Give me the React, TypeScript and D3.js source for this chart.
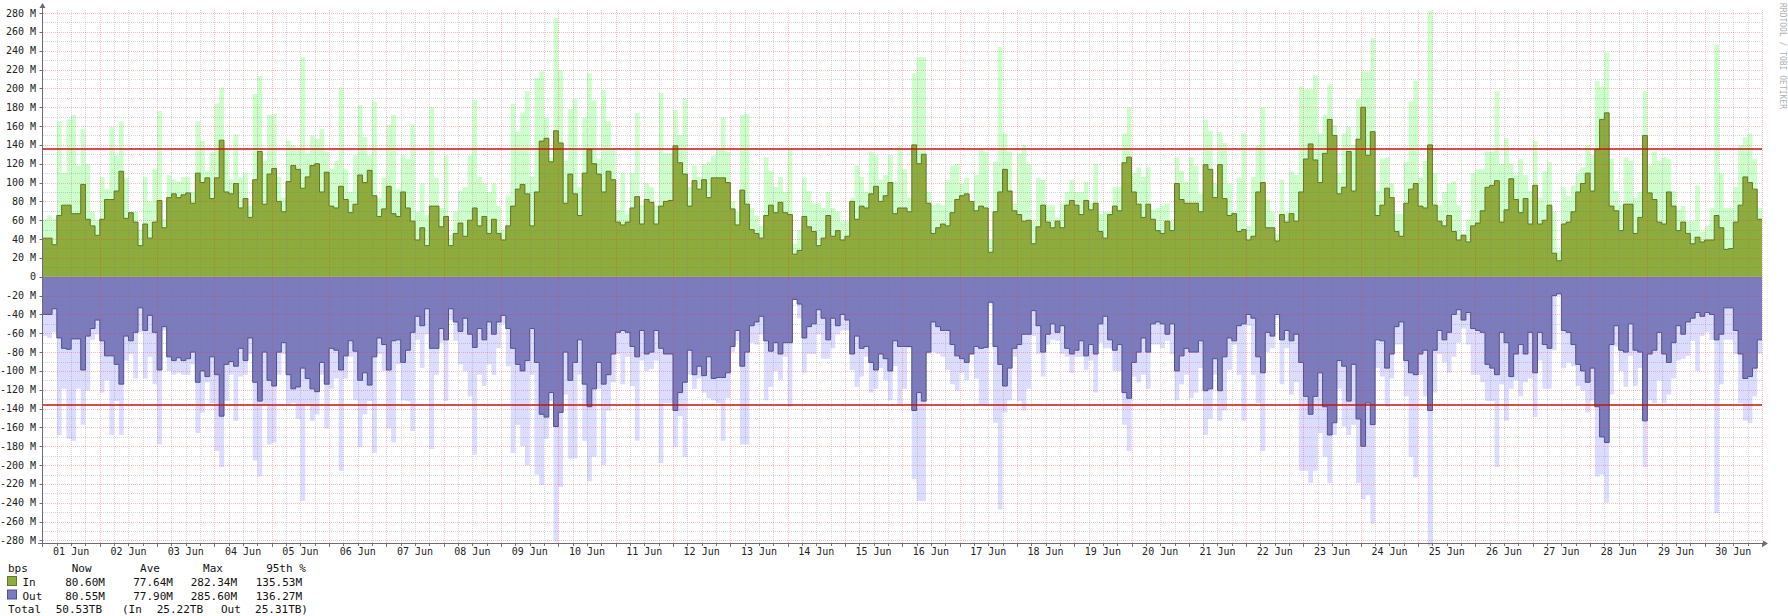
import { useEffect, useRef } from "react";
import * as d3 from "d3";

// 2-hour samples, values in Mbit/s (01 Jun .. 30 Jun)
const inAvg = [
  41, 41, 34, 65, 76, 76, 67, 67, 98, 61, 54, 44, 61, 82, 82, 91, 112, 62, 68, 58,
  33, 56, 41, 58, 81, 52, 84, 88, 84, 87, 89, 78, 110, 100, 105, 83, 105, 145, 90, 88,
  99, 73, 83, 63, 103, 133, 77, 109, 115, 80, 69, 101, 118, 114, 94, 106, 118, 120, 90, 111,
  75, 73, 96, 82, 68, 77, 108, 100, 113, 86, 64, 72, 96, 67, 64, 90, 73, 59, 39, 52,
  33, 75, 75, 53, 64, 33, 46, 57, 43, 60, 73, 54, 64, 46, 61, 46, 39, 54, 75, 93,
  98, 88, 54, 90, 144, 147, 122, 155, 142, 78, 109, 88, 65, 110, 135, 120, 109, 90, 112, 103,
  58, 55, 58, 73, 85, 56, 82, 79, 56, 75, 80, 81, 139, 121, 109, 75, 102, 93, 103, 84,
  105, 105, 105, 100, 72, 55, 92, 77, 50, 46, 41, 65, 76, 68, 79, 68, 66, 24, 28, 64,
  53, 48, 33, 41, 65, 43, 49, 39, 43, 80, 61, 75, 73, 88, 96, 80, 86, 100, 67, 73,
  73, 69, 140, 120, 130, 78, 46, 52, 56, 54, 68, 82, 86, 88, 80, 70, 75, 73, 26, 69,
  90, 114, 91, 70, 66, 59, 60, 35, 53, 76, 58, 52, 59, 52, 76, 81, 76, 66, 81, 71,
  78, 48, 41, 66, 75, 70, 121, 127, 90, 77, 63, 77, 61, 49, 46, 59, 49, 99, 82, 78,
  78, 78, 69, 119, 114, 84, 119, 83, 65, 67, 48, 50, 39, 43, 90, 100, 52, 52, 38, 66,
  58, 67, 59, 90, 125, 141, 124, 100, 131, 167, 150, 88, 95, 133, 91, 146, 180, 129, 154, 65,
  76, 94, 84, 48, 43, 78, 93, 99, 75, 73, 140, 76, 59, 54, 65, 48, 39, 44, 37, 54,
  57, 70, 95, 97, 102, 58, 71, 104, 82, 68, 83, 56, 97, 56, 60, 76, 25, 17, 56, 58,
  69, 90, 99, 110, 91, 135, 167, 174, 75, 70, 49, 77, 77, 46, 63, 150, 89, 82, 58, 56,
  90, 75, 49, 58, 46, 35, 42, 37, 39, 39, 65, 52, 29, 30, 58, 76, 106, 100, 93, 61,
];

const inMax = [
  61, 65, 61, 165, 110, 167, 172, 118, 157, 120, 69, 60, 106, 93, 159, 129, 165, 105, 69, 69,
  50, 106, 80, 114, 176, 61, 108, 103, 101, 106, 105, 90, 165, 144, 112, 132, 184, 201, 135, 103,
  151, 105, 110, 75, 194, 213, 123, 172, 173, 106, 84, 144, 140, 137, 233, 131, 150, 146, 157, 133,
  114, 123, 201, 114, 90, 129, 182, 148, 129, 186, 84, 105, 161, 172, 93, 129, 125, 162, 69, 99,
  65, 180, 105, 73, 129, 44, 69, 91, 95, 129, 188, 106, 99, 90, 99, 75, 50, 86, 184, 154,
  174, 197, 106, 211, 218, 169, 127, 275, 219, 123, 178, 189, 95, 169, 216, 187, 125, 198, 165, 137,
  71, 110, 67, 110, 174, 76, 99, 95, 76, 195, 131, 131, 177, 150, 189, 95, 118, 106, 120, 122,
  129, 135, 169, 133, 80, 69, 172, 173, 73, 65, 54, 127, 112, 95, 106, 90, 135, 35, 50, 105,
  91, 78, 78, 73, 90, 73, 69, 59, 59, 84, 118, 106, 90, 133, 129, 103, 108, 129, 101, 139,
  114, 84, 216, 233, 233, 90, 76, 78, 76, 103, 118, 120, 99, 105, 69, 108, 135, 133, 39, 122,
  244, 152, 133, 78, 131, 140, 120, 59, 105, 103, 76, 76, 63, 78, 90, 103, 90, 90, 101, 78,
  120, 67, 69, 69, 95, 95, 152, 180, 110, 116, 106, 116, 71, 73, 76, 78, 59, 127, 112, 101,
  127, 118, 88, 167, 155, 99, 154, 142, 99, 69, 105, 152, 54, 106, 140, 180, 82, 69, 46, 103,
  69, 112, 108, 202, 199, 199, 214, 152, 172, 204, 161, 110, 152, 159, 140, 189, 218, 218, 253, 91,
  125, 127, 99, 67, 67, 122, 186, 208, 105, 123, 282.34, 110, 76, 90, 99, 101, 76, 46, 61, 110,
  114, 114, 133, 133, 197, 120, 147, 120, 108, 125, 108, 91, 144, 84, 112, 122, 69, 27, 95, 86,
  97, 110, 116, 140, 129, 208, 202, 238, 125, 91, 76, 127, 123, 84, 90, 197, 118, 133, 123, 127,
  125, 91, 71, 75, 59, 59, 97, 48, 54, 73, 246, 110, 73, 73, 95, 140, 148, 152, 125, 73,
];

const outAvg = [
  40, 40, 34, 65, 76, 77, 66, 66, 99, 63, 55, 46, 68, 84, 84, 93, 114, 63, 68, 59,
  33, 57, 41, 59, 99, 53, 85, 89, 86, 89, 87, 80, 112, 100, 106, 85, 104, 148, 93, 90,
  95, 76, 89, 65, 112, 132, 80, 110, 116, 80, 70, 104, 119, 117, 97, 108, 119, 122, 91, 114,
  76, 78, 99, 84, 68, 79, 110, 102, 115, 85, 65, 72, 99, 68, 67, 91, 78, 59, 42, 52,
  34, 76, 76, 55, 67, 34, 48, 58, 44, 61, 75, 55, 67, 48, 61, 48, 41, 55, 76, 93,
  100, 89, 55, 91, 146, 149, 123, 159, 144, 80, 110, 91, 67, 114, 138, 119, 91, 114, 104, 82,
  59, 57, 59, 74, 85, 57, 82, 80, 57, 76, 82, 82, 142, 123, 112, 78, 104, 95, 105, 85,
  108, 107, 107, 102, 74, 57, 95, 80, 52, 48, 42, 68, 79, 70, 82, 70, 70, 24, 29, 65,
  53, 50, 35, 44, 67, 44, 52, 40, 46, 82, 63, 76, 74, 91, 99, 82, 87, 100, 68, 74,
  74, 74, 142, 123, 132, 80, 48, 53, 57, 57, 72, 84, 87, 91, 82, 74, 76, 75, 27, 74,
  93, 116, 97, 76, 72, 61, 61, 36, 52, 80, 61, 50, 59, 52, 76, 82, 78, 68, 84, 72,
  82, 50, 42, 67, 78, 72, 123, 129, 91, 80, 65, 80, 50, 48, 50, 61, 50, 100, 84, 76,
  80, 80, 68, 121, 119, 87, 121, 85, 65, 68, 52, 50, 40, 44, 85, 102, 59, 63, 40, 67,
  57, 68, 61, 91, 127, 146, 127, 102, 138, 168, 155, 89, 95, 132, 93, 151, 180, 134, 157, 67,
  68, 97, 82, 53, 48, 89, 102, 104, 82, 78, 142, 78, 57, 67, 59, 40, 35, 46, 38, 55,
  57, 59, 93, 97, 104, 59, 70, 106, 82, 72, 82, 59, 102, 59, 72, 76, 20, 18, 57, 59,
  72, 93, 100, 112, 97, 138, 170, 176, 72, 52, 78, 80, 50, 78, 80, 153, 82, 78, 59, 82,
  91, 70, 52, 61, 48, 44, 38, 42, 38, 40, 67, 61, 33, 33, 57, 82, 108, 106, 97, 67,
];

const outMax = [
  63, 65, 59, 168, 119, 172, 174, 119, 157, 121, 67, 61, 123, 110, 168, 132, 168, 89, 82, 108,
  59, 108, 85, 114, 178, 57, 100, 104, 102, 104, 104, 93, 166, 144, 112, 134, 185, 202, 132, 104,
  153, 106, 104, 82, 195, 212, 136, 178, 176, 104, 82, 136, 134, 151, 238, 136, 153, 146, 104, 161,
  119, 108, 206, 108, 85, 131, 181, 146, 132, 187, 82, 100, 161, 176, 93, 131, 132, 164, 67, 97,
  61, 183, 104, 70, 132, 46, 68, 93, 100, 127, 189, 104, 116, 93, 104, 76, 50, 95, 187, 157,
  180, 200, 104, 210, 221, 172, 132, 281, 223, 125, 193, 193, 104, 174, 217, 191, 119, 200, 142, 112,
  82, 114, 85, 116, 174, 89, 100, 98, 89, 198, 134, 134, 181, 148, 191, 104, 119, 108, 123, 129,
  131, 134, 174, 129, 80, 68, 178, 178, 70, 72, 61, 131, 117, 100, 110, 85, 138, 25, 44, 102,
  82, 82, 61, 87, 87, 76, 61, 57, 57, 99, 117, 106, 85, 123, 119, 97, 110, 131, 95, 136,
  119, 76, 215, 238, 238, 82, 80, 82, 85, 99, 114, 121, 102, 110, 78, 108, 136, 136, 29, 155,
  247, 144, 131, 85, 132, 142, 119, 63, 82, 106, 72, 67, 68, 82, 85, 102, 85, 85, 99, 89,
  123, 70, 76, 76, 100, 100, 157, 185, 106, 112, 104, 119, 72, 72, 76, 68, 82, 131, 114, 104,
  129, 123, 97, 168, 151, 104, 153, 142, 99, 72, 104, 153, 52, 104, 134, 185, 80, 76, 44, 114,
  76, 125, 112, 206, 206, 219, 206, 166, 191, 219, 168, 119, 159, 168, 157, 219, 236, 232, 262, 97,
  106, 138, 108, 72, 72, 127, 191, 213, 104, 127, 285.6, 123, 82, 91, 102, 85, 70, 55, 72, 104,
  104, 112, 132, 132, 202, 114, 153, 119, 110, 127, 112, 108, 149, 89, 119, 119, 78, 20, 97, 91,
  95, 116, 121, 144, 131, 212, 210, 240, 125, 74, 100, 117, 84, 116, 97, 202, 131, 134, 110, 134,
  125, 108, 89, 87, 84, 68, 100, 63, 59, 67, 251, 114, 67, 67, 82, 134, 153, 155, 127, 82,
];

const in95 = 135.53;
const out95 = 136.27;

const legendHeads = ["Now", "Ave", "Max", "95th %"];
const inStats = ["80.60M", "77.64M", "282.34M", "135.53M"];
const outStats = ["80.55M", "77.90M", "285.60M", "136.27M"];
const totalAll = "50.53TB";
const totalIn = "25.22TB";
const totalOut = "25.31TB";

const start = Date.UTC(2014, 5, 1);
const binMs = 2 * 3600 * 1000;
const end = start + inAvg.length * binMs;

const W = 1788;
const H = 616;
const FONT = "DejaVu Sans Mono, monospace";

export default function App() {
  const svgRef = useRef<SVGSVGElement | null>(null);

  useEffect(() => {
    if (!svgRef.current) return;
    const svg = d3.select(svgRef.current);
    svg.selectAll("*").remove();

    const x = d3.scaleUtc().domain([start, end]).range([42.5, 1762]);
    const y = d3.scaleLinear().domain([-283.2, 283.2]).range([543.5, 10]);

    const toPts = (vals: number[], sign: number) => {
      const p = vals.map((v, i) => ({ t: start + i * binMs, v: sign * v }));
      p.push({ t: end, v: sign * vals[vals.length - 1] });
      return p;
    };

    const area = d3
      .area<{ t: number; v: number }>()
      .curve(d3.curveStepAfter)
      .x((d) => x(d.t))
      .y0(y(0))
      .y1((d) => y(d.v));
    const line = d3
      .line<{ t: number; v: number }>()
      .curve(d3.curveStepAfter)
      .x((d) => x(d.t))
      .y((d) => y(d.v));

    svg.append("rect").attr("width", W).attr("height", H).attr("fill", "#fff");

    const g = svg.append("g");
    g.append("path").attr("d", area(toPts(inMax, 1))).attr("fill", "#ccffcc");
    g.append("path").attr("d", area(toPts(outMax, -1))).attr("fill", "#dcdcff");
    g.append("path").attr("d", area(toPts(inAvg, 1))).attr("fill", "#8eab3d");
    g.append("path").attr("d", area(toPts(outAvg, -1))).attr("fill", "#7b7bbe");
    g.append("path")
      .attr("d", line(toPts(inAvg, 1)))
      .attr("fill", "none")
      .attr("stroke", "#5f7a22")
      .attr("stroke-width", 1);
    g.append("path")
      .attr("d", line(toPts(outAvg, -1)))
      .attr("fill", "none")
      .attr("stroke", "#50508f")
      .attr("stroke-width", 1);

    // grid
    const grid = svg.append("g").attr("shape-rendering", "crispEdges");
    const x0 = 42.5;
    const x1 = 1762;
    d3.range(-280, 281, 10).forEach((v) => {
      const major = v % 20 === 0;
      grid
        .append("line")
        .attr("x1", x0)
        .attr("x2", x1)
        .attr("y1", Math.round(y(v)) + 0.5)
        .attr("y2", Math.round(y(v)) + 0.5)
        .attr("stroke", major ? "rgba(255,40,40,0.3)" : "rgba(120,120,120,0.3)")
        .attr("stroke-dasharray", "1,1");
    });
    x.ticks(d3.utcHour.every(6)).forEach((t) => {
      const major = t.getUTCHours() === 0;
      if (+t <= start) return;
      const px = Math.round(x(t)) + 0.5;
      grid
        .append("line")
        .attr("x1", px)
        .attr("x2", px)
        .attr("y1", y(283.2))
        .attr("y2", y(-283.2))
        .attr("stroke", major ? "rgba(255,40,40,0.3)" : "rgba(120,120,120,0.3)")
        .attr("stroke-dasharray", "1,1");
      grid
        .append("line")
        .attr("x1", px)
        .attr("x2", px)
        .attr("y1", 543.5)
        .attr("y2", major ? 547 : 545.5)
        .attr("stroke", "#777");
    });

    // 95th percentile lines
    [in95, -out95].forEach((v) => {
      svg
        .append("line")
        .attr("x1", x0)
        .attr("x2", x1)
        .attr("y1", y(v))
        .attr("y2", y(v))
        .attr("stroke", "#cc1111")
        .attr("stroke-width", 1.5);
    });

    // axes
    const ax = svg.append("g").attr("stroke", "#6a6a78").attr("fill", "#6a6a78");
    ax.append("line").attr("x1", x0).attr("x2", x0).attr("y1", 7).attr("y2", 547);
    ax.append("line").attr("x1", 38).attr("x2", 1764).attr("y1", 543.5).attr("y2", 543.5);
    ax.append("path").attr("d", `M${x0 - 3},8L${x0 + 3},8L${x0},3Z`).attr("stroke", "none");
    ax.append("path").attr("d", `M1763,540.5L1763,546.5L1768,543.5Z`).attr("stroke", "none");

    d3.range(-280, 281, 20).forEach((v) => {
      ax.append("line")
        .attr("x1", x0 - 3)
        .attr("x2", x0)
        .attr("y1", Math.round(y(v)) + 0.5)
        .attr("y2", Math.round(y(v)) + 0.5);
      svg
        .append("text")
        .attr("x", 36)
        .attr("y", y(v))
        .attr("dy", "0.35em")
        .attr("text-anchor", "end")
        .attr("font-family", FONT)
        .attr("font-size", 10)
        .attr("fill", "#222")
        .text(v === 0 ? "0" : `${v} M`);
    });

    const fmt = d3.utcFormat("%d %b");
    d3.utcDay.range(new Date(start), new Date(end)).forEach((d) => {
      svg
        .append("text")
        .attr("x", x(+d + 12 * 3600 * 1000))
        .attr("y", 555)
        .attr("text-anchor", "middle")
        .attr("font-family", FONT)
        .attr("font-size", 10)
        .attr("fill", "#222")
        .text(fmt(d));
    });

    // watermark
    svg
      .append("text")
      .attr("transform", "translate(1780,3) rotate(90)")
      .attr("font-family", FONT)
      .attr("font-size", 8)
      .attr("fill", "#b0b0b0")
      .text("RRDTOOL / TOBI OETIKER");

    // legend
    const leg = svg
      .append("g")
      .attr("font-family", FONT)
      .attr("font-size", 11)
      .attr("fill", "#111")
      .attr("xml:space", "preserve");
    const heads = [81.7, 150, 213, 286];
    const ends = [105, 173, 237, 302];
    leg.append("text").attr("x", 8).attr("y", 571.5).text("bps");
    legendHeads.forEach((h, i) =>
      leg.append("text").attr("x", heads[i]).attr("y", 571.5).attr("text-anchor", "middle").text(h)
    );
    const rows: [string, string[], string, string, number][] = [
      ["In", inStats, "#8eab3d", "#5f7a22", 586],
      ["Out", outStats, "#7b7bbe", "#50508f", 599.5],
    ];
    rows.forEach(([name, stats, fill, stroke, yy]) => {
      leg.append("rect")
        .attr("x", 7.5)
        .attr("y", yy - 9.5)
        .attr("width", 9)
        .attr("height", 9)
        .attr("fill", fill)
        .attr("stroke", stroke);
      leg.append("text").attr("x", 22.5).attr("y", yy).text(name);
      stats.forEach((s, i) =>
        leg.append("text").attr("x", ends[i]).attr("y", yy).attr("text-anchor", "end").text(s)
      );
    });
    const ty = 612.5;
    leg.append("text").attr("x", 8).attr("y", ty).text("Total");
    leg.append("text").attr("x", 102).attr("y", ty).attr("text-anchor", "end").text(totalAll);
    leg.append("text").attr("x", 122).attr("y", ty).text("(In");
    leg.append("text").attr("x", 203).attr("y", ty).attr("text-anchor", "end").text(totalIn);
    leg.append("text").attr("x", 221).attr("y", ty).text("Out");
    leg.append("text").attr("x", 308).attr("y", ty).attr("text-anchor", "end").text(`${totalOut})`);
  }, []);

  return (
    <div style={{ width: W, height: H }}>
      <style>{`body{margin:0}`}</style>
      <svg ref={svgRef} width={W} height={H} viewBox={`0 0 ${W} ${H}`} style={{ display: "block" }} />
    </div>
  );
}
